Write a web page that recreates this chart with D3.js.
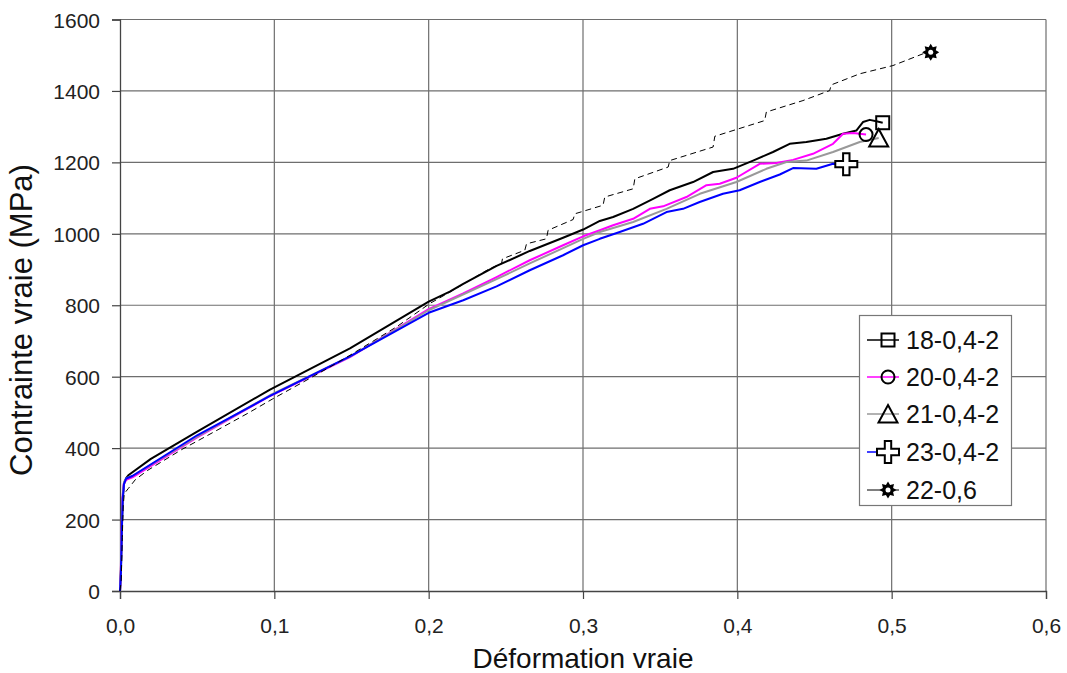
<!DOCTYPE html>
<html>
<head>
<meta charset="utf-8">
<script src="https://cdn.jsdelivr.net/npm/d3@7"></script>
<style>
  html, body { margin: 0; padding: 0; background: #fff; }
  svg { display: block; font-family: "Liberation Sans", Arial, sans-serif; }
</style>
</head>
<body>
<svg id="chart" width="1067" height="673"></svg>
<script>
// ---- Data ----
const xTicks = [0, 0.1, 0.2, 0.3, 0.4, 0.5, 0.6];
const yTicks = [0, 200, 400, 600, 800, 1000, 1200, 1400, 1600];
const xTickLabels = ["0,0", "0,1", "0,2", "0,3", "0,4", "0,5", "0,6"];
const seriesNames = ["18-0,4-2", "20-0,4-2", "21-0,4-2", "23-0,4-2", "22-0,6"];

const s18 = [[0,0],[0.0006,60],[0.0012,180],[0.0018,260],[0.0026,300],[0.004,316],[0.0054,324],[0.02,370],[0.05,446],[0.0972,564],[0.149,679],[0.2,810],[0.2137,838],[0.2224,860],[0.244,910],[0.2655,952],[0.2871,989],[0.3001,1012],[0.3109,1036],[0.3195,1047],[0.3325,1070],[0.3454,1098],[0.3562,1122],[0.3713,1145],[0.3843,1173],[0.3972,1182],[0.4102,1205],[0.4231,1229],[0.4339,1252],[0.4447,1257],[0.4577,1266],[0.4685,1280],[0.4771,1289],[0.4814,1313],[0.4858,1319],[0.4901,1315],[0.4942,1311]];
const s20 = [[0,0],[0.0005,50],[0.001,170],[0.0016,260],[0.0024,300],[0.004,311],[0.008,318],[0.05,430],[0.0972,546],[0.149,655],[0.2,789],[0.2224,833],[0.244,879],[0.2655,926],[0.2871,968],[0.3001,993],[0.3109,1010],[0.3195,1024],[0.3325,1042],[0.3433,1070],[0.3519,1077],[0.367,1103],[0.38,1136],[0.3886,1140],[0.3994,1157],[0.4145,1196],[0.4253,1198],[0.4361,1207],[0.449,1224],[0.462,1252],[0.4685,1280],[0.475,1282],[0.4834,1278]];
const s21 = [[0,0],[0.0006,60],[0.0012,190],[0.0018,270],[0.0026,305],[0.004,316],[0.008,322],[0.05,432],[0.0972,548],[0.149,656],[0.2,786],[0.244,873],[0.2655,917],[0.2871,960],[0.3001,986],[0.3109,1005],[0.3325,1033],[0.3541,1070],[0.3757,1112],[0.3994,1145],[0.4188,1182],[0.4318,1201],[0.4447,1205],[0.462,1229],[0.4793,1257],[0.4916,1268]];
const s23 = [[0,0],[0.0006,50],[0.0012,170],[0.0018,260],[0.0026,300],[0.004,315],[0.008,322],[0.05,436],[0.0972,546],[0.149,657],[0.2,779],[0.2224,814],[0.244,853],[0.2655,898],[0.2871,940],[0.3001,968],[0.3109,986],[0.3238,1005],[0.3389,1028],[0.3541,1061],[0.3648,1070],[0.3756,1089],[0.3907,1112],[0.4015,1122],[0.4145,1145],[0.4275,1166],[0.4361,1184],[0.4512,1182],[0.462,1196],[0.4706,1195]];
const s22 = [[0,0],[0.0008,30],[0.0015,150],[0.0021,240],[0.0028,273],[0.0054,287],[0.01,312],[0.018,338],[0.04,396],[0.062,448],[0.083,498],[0.099,538],[0.1187,585],[0.136,627],[0.149,660],[0.179,739],[0.2008,805],[0.2138,837],[0.2267,870],[0.2397,903],[0.2472,916],[0.2478,930],[0.2623,954],[0.2634,972],[0.2763,986],[0.2774,1010],[0.2936,1040],[0.2947,1056],[0.313,1080],[0.3141,1103],[0.3325,1126],[0.3336,1154],[0.3552,1187],[0.3562,1205],[0.3843,1243],[0.3854,1273],[0.4177,1317],[0.4188,1341],[0.4425,1373],[0.4598,1401],[0.4609,1417],[0.4793,1448],[0.5008,1471],[0.5203,1504],[0.5253,1508]];

const seriesData = [s18, s20, s21, s23, s22];
const seriesColors = ["#000000", "#ff00ff", "#999999", "#0000ff", "#000000"];
const seriesWidths = [2, 2, 2, 2, 1];
const seriesDash = [null, null, null, null, "6,4"];
const seriesMarkers = ["square", "circle", "triangle", "plus", "star"];

// ---- Layout ----
const svg = d3.select("#chart");
const x = d3.scaleLinear().domain([0, 0.6]).range([120, 1046]);
const y = d3.scaleLinear().domain([0, 1600]).range([591, 19.5]);

const gridColor = "#6e6e6e";
svg.append("g").selectAll("line").data(yTicks.slice(1)).join("line")
  .attr("x1", x(0)).attr("x2", x(0.6))
  .attr("y1", d => y(d)).attr("y2", d => y(d))
  .attr("stroke", gridColor).attr("stroke-width", 1.2);
svg.append("g").selectAll("line").data(xTicks.slice(1)).join("line")
  .attr("x1", d => x(d)).attr("x2", d => x(d))
  .attr("y1", y(0)).attr("y2", y(1600))
  .attr("stroke", gridColor).attr("stroke-width", 1.2);

// axes
const yAxis = d3.axisLeft(y).tickValues(yTicks).tickSize(8).tickPadding(12).tickFormat(d3.format("d"));
const gy = svg.append("g").attr("transform", `translate(${x(0)},0)`).call(yAxis);
const xAxis = d3.axisBottom(x).tickValues(xTicks).tickSize(8).tickPadding(19).tickFormat((d, i) => xTickLabels[i]);
const gx = svg.append("g").attr("transform", `translate(0,${y(0)})`).call(xAxis);
[gx, gy].forEach(g => {
  g.select(".domain").attr("stroke", "#444").attr("stroke-width", 1.3);
  g.selectAll(".tick line").attr("stroke", "#444").attr("stroke-width", 1.2);
  g.selectAll("text").attr("font-size", 21).attr("fill", "#222")
    .attr("font-family", "Liberation Sans, Arial, sans-serif");
});
gy.selectAll("text").attr("dy", "0.36em");

// axis titles
svg.append("text").attr("x", x(0.3)).attr("y", 668).attr("text-anchor", "middle")
  .attr("font-size", 28).attr("fill", "#111").text("Déformation vraie");
svg.append("text").attr("transform", "translate(32,320) rotate(-90)").attr("text-anchor", "middle")
  .attr("font-size", 31).attr("fill", "#111").text("Contrainte vraie (MPa)");

// lines
const line = d3.line().x(d => x(d[0])).y(d => y(d[1]));
seriesData.forEach((s, i) => {
  svg.append("path").datum(s).attr("d", line)
    .attr("fill", "none").attr("stroke", seriesColors[i]).attr("stroke-width", seriesWidths[i])
    .attr("stroke-dasharray", seriesDash[i]).attr("stroke-linejoin", "round");
});

// marker drawing
function drawMarker(g, type, cx, cy) {
  if (type === "square") {
    g.append("rect").attr("x", cx - 6.5).attr("y", cy - 6.5).attr("width", 13).attr("height", 13)
      .attr("fill", "none").attr("stroke", "#000").attr("stroke-width", 2);
  } else if (type === "circle") {
    g.append("circle").attr("cx", cx).attr("cy", cy).attr("r", 6.5)
      .attr("fill", "none").attr("stroke", "#000").attr("stroke-width", 2);
  } else if (type === "triangle") {
    g.append("path").attr("d", `M${cx},${cy - 9}L${cx + 9.5},${cy + 8.5}L${cx - 9.5},${cy + 8.5}Z`)
      .attr("fill", "none").attr("stroke", "#000").attr("stroke-width", 2);
  } else if (type === "plus") {
    const a = 11, b = 3.2;
    g.append("path").attr("d",
      `M${cx - b},${cy - a}H${cx + b}V${cy - b}H${cx + a}V${cy + b}H${cx + b}V${cy + a}H${cx - b}V${cy + b}H${cx - a}V${cy - b}H${cx - b}Z`)
      .attr("fill", "#fff").attr("stroke", "#000").attr("stroke-width", 2);
  } else if (type === "star") {
    const pts = [];
    for (let k = 0; k < 16; k++) {
      const ang = k * Math.PI / 8 - Math.PI / 2;
      const r = k % 2 === 0 ? 8.5 : 5.5;
      pts.push([cx + r * Math.cos(ang), cy + r * Math.sin(ang)]);
    }
    g.append("path").attr("d", "M" + pts.map(p => p.join(",")).join("L") + "Z").attr("fill", "#000");
    g.append("circle").attr("cx", cx).attr("cy", cy).attr("r", 2.5).attr("fill", "#fff");
  }
}

// end markers
const mg = svg.append("g");
seriesData.forEach((s, i) => {
  const last = s[s.length - 1];
  drawMarker(mg, seriesMarkers[i], x(last[0]), y(last[1]));
});

// legend
const lg = svg.append("g");
lg.append("rect").attr("x", 859.5).attr("y", 315.5).attr("width", 152).attr("height", 190)
  .attr("fill", "#fff").attr("stroke", "#777").attr("stroke-width", 1.2);
const rowY = [340, 377, 414, 452, 490];
seriesNames.forEach((name, i) => {
  const ry = rowY[i];
  lg.append("line").attr("x1", 867).attr("x2", 899).attr("y1", ry).attr("y2", ry)
    .attr("stroke", seriesColors[i]).attr("stroke-width", i === 4 ? 1 : 1.5);
  drawMarker(lg, seriesMarkers[i], 888, ry);
  lg.append("text").attr("x", 906).attr("y", ry + 9).attr("font-size", 25).attr("fill", "#111").text(name);
});
</script>
</body>
</html>
